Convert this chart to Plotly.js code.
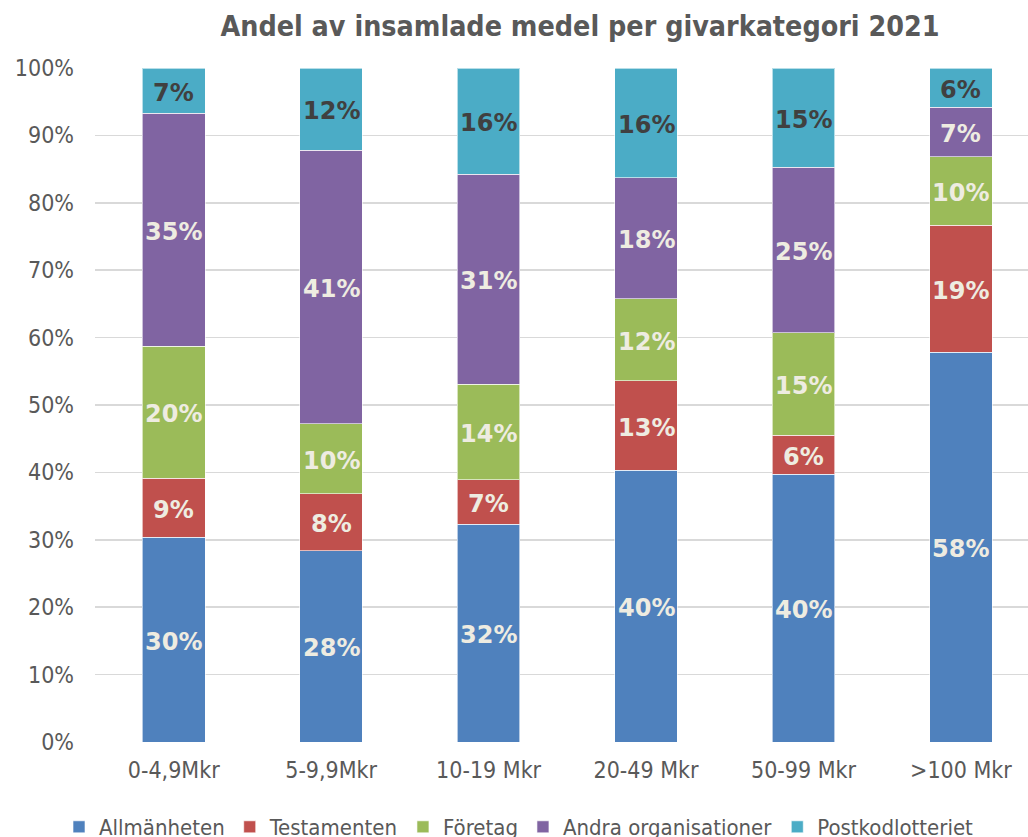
<!DOCTYPE html>
<html><head><meta charset="utf-8">
<script src="https://cdn.plot.ly/plotly-3.0.1.min.js"></script>
<style>html,body{margin:0;padding:0;background:#fff;}#chart{width:1028px;height:837px;}</style>
</head><body><div id="chart"></div>
<script>
var categories = ['0-4,9Mkr','5-9,9Mkr','10-19 Mkr','20-49 Mkr','50-99 Mkr','>100 Mkr'];
var allmanheten = [0.304, 0.284, 0.323, 0.403, 0.397, 0.578];
var testamenten = [0.087, 0.084, 0.066, 0.133, 0.058, 0.189];
var foretag     = [0.196, 0.104, 0.142, 0.122, 0.152, 0.101];
var andra       = [0.346, 0.406, 0.311, 0.179, 0.246, 0.074];
var postkod     = [0.067, 0.122, 0.158, 0.163, 0.147, 0.058];
var seriesNames = ['Allmänheten','Testamenten','Företag','Andra organisationer','Postkodlotteriet'];
var seriesColors = ['#4f81bd','#c0504d','#9bbb59','#8064a2','#4bacc6'];
var labelColors = ['#eeece1','#eeece1','#eeece1','#eeece1','#404040'];
var series = [allmanheten, testamenten, foretag, andra, postkod];
var idx = categories.map(function(c,i){return i;});

var traces = [];
series.forEach(function(vals, i){
  traces.push({
    type:'bar', name: seriesNames[i], x: idx, y: vals,
    marker:{color: seriesColors[i], line:{color:'rgba(255,255,255,0.6)', width:1}},
    width: 0.398, hoverinfo:'y+name', textposition:'none'
  });
});
// labels at segment midpoints
var annotations = [];
var cum = categories.map(function(){return 0;});
series.forEach(function(vals, i){
  vals.forEach(function(v, j){
    var m = cum[j] + v/2; cum[j] += v;
    annotations.push({
      x: idx[j], y: m, xref:'x', yref:'y', showarrow:false, yshift:-2,
      text: Math.round(v*100) + '%',
      font:{family:'DejaVu Sans', size:24, color: labelColors[i], weight:'bold'}
    });
  });
});

var layout = {
  width:1028, height:837, barmode:'stack',
  paper_bgcolor:'#fff', plot_bgcolor:'#fff',
  margin:{l:95, r:0, t:68, b:95},
  font:{family:'DejaVu Sans Condensed, DejaVu Sans', color:'#595959'},
  title:{text:'<b>Andel av insamlade medel per givarkategori 2021</b>', x:580/1028, xref:'container', xanchor:'center',
         y:1-26/837, yref:'container', yanchor:'middle',
         font:{family:'DejaVu Sans Condensed, DejaVu Sans', size:28.4, color:'#595959'}},
  xaxis:{range:[-0.5, 5.426], tickvals: idx, ticktext: categories, showgrid:false, zeroline:false, showline:false, ticks:'',
         tickfont:{size:23, color:'#595959'}, ticklabelstandoff:12, fixedrange:true},
  yaxis:{range:[0,1], tickformat:'.0%', dtick:0.1, showgrid:true, gridcolor:'#d9d9d9', gridwidth:1.5,
         zeroline:false, showline:false, ticks:'',
         tickfont:{size:23, color:'#595959'}, ticklabelstandoff:20, fixedrange:true},
  legend:{orientation:'h', x:59/1028, xanchor:'left', xref:'container', y:1-827/837, yref:'container', yanchor:'middle',
          font:{size:22, color:'#595959'}, traceorder:'normal', itemclick:false},
  annotations: annotations,
  showlegend:true
};
Plotly.newPlot('chart', traces, layout, {displayModeBar:false, staticPlot:true});
</script></body></html>
